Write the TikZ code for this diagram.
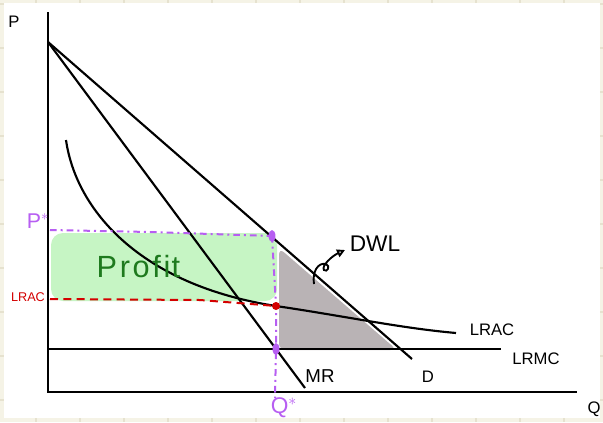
\documentclass[tikz,border=0pt]{standalone}
\usepackage{fontspec}
\setmainfont{Liberation Sans}
\usetikzlibrary{arrows.meta}
\definecolor{cream}{HTML}{F5F3E6}
\definecolor{gridc}{HTML}{E6E2CF}
\definecolor{profitg}{HTML}{C6F5C4}
\definecolor{darkg}{HTML}{1E7A1E}
\definecolor{dwlgrey}{HTML}{B9B3B5}
\definecolor{purp}{HTML}{B75EF2}
\definecolor{redc}{HTML}{D40000}
\tikzset{
  curve/.style={line width=1.6pt, black},
  purpdash/.style={purp, line width=1.5pt, dash pattern=on 5pt off 3pt on 1.5pt off 3pt},
  reddash/.style={redc, line width=1.5pt, dash pattern=on 6pt off 4pt},
  lbl/.style={font=\fontsize{12.5}{14}\selectfont, inner sep=0pt},
  hand/.style={inner sep=0pt},
}
\begin{document}
\begin{tikzpicture}[x=0.75pt,y=-0.75pt]
\useasboundingbox (0,0) rectangle (603,422);
\fill[cream] (0,0) rectangle (603,422);
\foreach \gx in {36,80,124,168,212,256,300,344,388,432,476,520,564}
  \draw[gridc, line width=0.8pt] (\gx,0) -- (\gx,422);
\foreach \gy in {4,48,92,136,180,224,268,312,356,400}
  \draw[gridc, line width=0.8pt] (0,\gy) -- (603,\gy);
\fill[white] (4,3) rectangle (600,418);

% fills
\fill[profitg, rounded corners=9pt] (51,233) rectangle (277,301);
\fill[dwlgrey, rounded corners=5pt] (279,248) -- (397,350) -- (279,350) -- cycle;

% coordinates
\coordinate (O) at (48,392);
\coordinate (Ytop) at (48,12);
\coordinate (Xend) at (577,392);
\coordinate (Dtop) at (48,42);
\coordinate (Dend) at (412,359);
\coordinate (MRend) at (305,388);
\coordinate (MCstart) at (48,349);
\coordinate (MCend) at (501,349);
\coordinate (Pdot) at (272,236);
\coordinate (Adot) at (276,306);
\coordinate (Mdot) at (276,349);
\coordinate (Qbot) at (275,398);
\coordinate (Pleft) at (50,230);
\coordinate (Aleft) at (50,299);
\coordinate (ACstart) at (66,140);
\coordinate (ACend) at (456,333);

% axes and curves
\draw[curve] (Ytop) -- (O) -- (Xend);
\draw[curve] (Dtop) -- (Dend);
\draw[curve] (Dtop) -- (MRend);
\draw[curve] (MCstart) -- (MCend);
\draw[curve] (ACstart) .. controls (76,210) and (140,285) .. (Adot) .. controls (350,317) and (400,328) .. (ACend);

% dashed guides
\draw[purpdash] (Pleft) -- (150,232) -- (Pdot);
\draw[purpdash] (Pdot) -- (Adot) -- (Mdot) -- (Qbot);
\draw[reddash] (Aleft) -- (200,300) -- (Adot);

% dots
\fill[purp] (Pdot) ellipse (2.6pt and 4.5pt);
\fill[purp] (Mdot) ellipse (2.6pt and 4.5pt);
\fill[redc] (Adot) circle (3pt);

% DWL arrow
\coordinate (Astart) at (314,284);
\coordinate (Aend) at (345,250);
\draw[line width=1.4pt, -{Triangle[open, length=6pt, width=6pt]}] (Astart) .. controls (312,272) and (318,262) .. (326,264) .. controls (331,266) and (327,273) .. (324,270) .. controls (321,266) and (332,256) .. (Aend);

% labels
\node[lbl] (lP) at (14,22) {P};
\node[lbl] (lQ) at (594,409) {Q};
\node[lbl] (lD) at (428,377) {D};
\node[lbl] (lLRAC) at (492,330) {LRAC};
\node[lbl] (lLRMC) at (536,359) {LRMC};
\node[hand, font=\fontsize{14}{15}\selectfont] (lMR) at (320,376) {MR};
\node[hand, text=purp, font=\fontsize{16}{17}\selectfont] (lPs) at (38,221) {P$^{\ast}$};
\node[hand, text=redc, font=\fontsize{9.5}{10}\selectfont] (lLRACr) at (28,297) {LRAC};
\node[hand, text=purp, font=\fontsize{17}{18}\selectfont] (lQs) at (284,408) {Q$^{\ast}$};
\node[hand, text=darkg, font=\fontsize{23}{26}\selectfont, text width=80pt, align=left] (lProfit) at (150,267) {P\hspace{2pt}r\hspace{2pt}o\hspace{2pt}f\hspace{2pt}i\hspace{1pt}t};
\node[hand, font=\fontsize{17}{18}\selectfont] (lDWL) at (375,244) {DWL};
\end{tikzpicture}
\end{document}
